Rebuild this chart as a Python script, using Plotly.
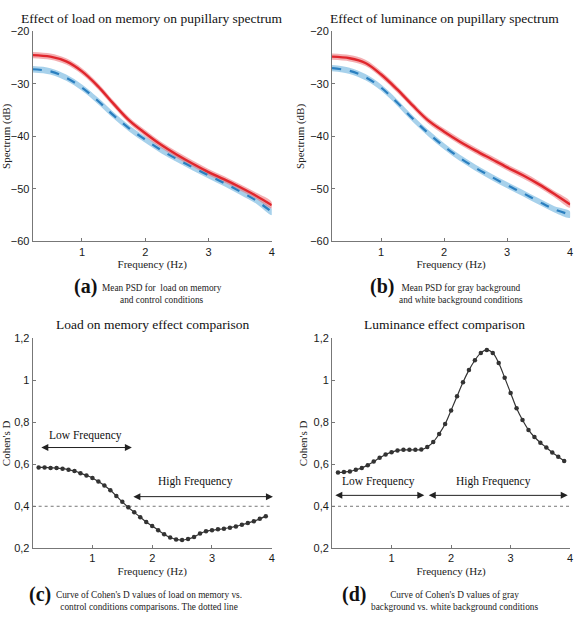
import plotly.graph_objects as go

# ---------------- data ----------------
freq_psd = [0.22, 0.5, 0.75, 1.0, 1.25, 1.5, 1.75, 2.0, 2.25, 2.5, 2.75, 3.0, 3.25, 3.5, 3.75, 4.0]
load_red = [-24.5, -24.8, -25.7, -27.6, -30.4, -33.8, -37.0, -39.4, -41.6, -43.5, -45.2, -46.8, -48.2, -49.7, -51.3, -53.1]
load_blue = [-27.2, -27.6, -28.8, -30.7, -33.2, -36.0, -38.5, -40.6, -42.6, -44.3, -45.9, -47.4, -48.9, -50.5, -52.2, -54.4]
lum_red = [-24.8, -25.1, -26.0, -28.2, -31.0, -34.1, -37.0, -39.1, -41.0, -42.7, -44.3, -45.9, -47.4, -49.1, -51.0, -53.0]
lum_blue = [-27.0, -27.5, -28.7, -30.7, -33.5, -36.6, -39.4, -41.9, -44.1, -46.0, -47.7, -49.3, -50.8, -52.4, -53.9, -54.9]
band_half = 0.6

freq_d = [round(0.1 * i, 1) for i in range(1, 40)]
d_load = [0.585, 0.585, 0.583, 0.582, 0.579, 0.574, 0.568, 0.558, 0.547, 0.535,
          0.518, 0.499, 0.476, 0.449, 0.421, 0.395, 0.371, 0.348, 0.325, 0.306,
          0.286, 0.267, 0.251, 0.242, 0.239, 0.244, 0.254, 0.270, 0.281, 0.286,
          0.290, 0.293, 0.298, 0.304, 0.312, 0.320, 0.329, 0.340, 0.353]
d_lum = [0.561, 0.563, 0.566, 0.574, 0.583, 0.596, 0.613, 0.631, 0.647, 0.658,
         0.666, 0.669, 0.669, 0.669, 0.670, 0.683, 0.706, 0.745, 0.792, 0.857,
         0.924, 0.991, 1.049, 1.096, 1.131, 1.145, 1.131, 1.083, 1.013, 0.940,
         0.867, 0.811, 0.764, 0.730, 0.703, 0.680, 0.656, 0.636, 0.616]
threshold = 0.4

psd_yticks = [-60, -50, -40, -30, -20]
d_ticks = [0.2, 0.4, 0.6, 0.8, 1.0, 1.2]
d_ticktext = ["0,2", "0,4", "0,6", "0,8", "1", "1,2"]
x_ticks = [1, 2, 3, 4]

titles = ["Effect of load on memory on pupillary spectrum",
          "Effect of luminance on pupillary spectrum",
          "Load on memory effect comparison",
          "Luminance effect comparison"]

# ---------------- figure ----------------
W, H = 585, 617
fig = go.Figure()

SERIF = "Liberation Serif"
SANS = "Liberation Sans"
RED = "#e0262c"
RED_BAND = "rgba(235,110,115,0.55)"
BLUE = "#2a7fc0"
BLUE_BAND = "rgba(120,185,225,0.65)"
SMOOTH = 1.0


def add_psd(xa, ya, red, blue):
    up_r = [v + band_half for v in red]
    lo_r = [v - band_half for v in red]
    up_b = [v + band_half for v in blue]
    lo_b = [v - band_half for v in blue]
    fig.add_trace(go.Scatter(x=freq_psd + freq_psd[::-1], y=up_b + lo_b[::-1], fill="toself",
                             fillcolor=BLUE_BAND, line=dict(width=0, shape="spline", smoothing=SMOOTH), mode="lines",
                             xaxis=xa, yaxis=ya, showlegend=False, hoverinfo="skip"))
    fig.add_trace(go.Scatter(x=freq_psd + freq_psd[::-1], y=up_r + lo_r[::-1], fill="toself",
                             fillcolor=RED_BAND, line=dict(width=0, shape="spline", smoothing=SMOOTH), mode="lines",
                             xaxis=xa, yaxis=ya, showlegend=False, hoverinfo="skip"))
    fig.add_trace(go.Scatter(x=freq_psd, y=blue, mode="lines",
                             line=dict(color=BLUE, width=2.2, dash="dash", shape="spline", smoothing=SMOOTH),
                             xaxis=xa, yaxis=ya, showlegend=False))
    fig.add_trace(go.Scatter(x=freq_psd, y=red, mode="lines",
                             line=dict(color=RED, width=2.4, shape="spline", smoothing=SMOOTH),
                             xaxis=xa, yaxis=ya, showlegend=False))


def add_d(xa, ya, vals):
    fig.add_trace(go.Scatter(x=[0, 4], y=[threshold, threshold], mode="lines",
                             line=dict(color="#777", width=1, dash="dot"),
                             xaxis=xa, yaxis=ya, showlegend=False))
    fig.add_trace(go.Scatter(x=freq_d, y=vals, mode="lines+markers",
                             line=dict(color="#333", width=1.2, shape="spline"),
                             marker=dict(color="#333", size=4.5),
                             xaxis=xa, yaxis=ya, showlegend=False))


add_psd("x", "y", load_red, load_blue)
add_psd("x2", "y2", lum_red, lum_blue)
add_d("x3", "y3", d_load)
add_d("x4", "y4", d_lum)


def px_x(a, b):
    return [a / W, b / W]


def px_y(top, bottom):
    return [1 - bottom / H, 1 - top / H]


L_DOM = px_x(29, 271)
R_DOM = px_x(332, 573)
T_DOM = px_y(26, 240)
B_DOM = px_y(339, 553)

tickfont = dict(family=SANS, size=11, color="#1a1a1a")
axis_common = dict(showgrid=False, zeroline=False, showline=True, linecolor="#777",
                   linewidth=1, ticks="inside", ticklen=3, tickcolor="#777",
                   tickfont=tickfont, mirror=False)
xtitle = dict(text="Frequency (Hz)", font=dict(family=SERIF, size=11, color="#222"), standoff=3)


def ytitle(t):
    return dict(text=t, font=dict(family=SERIF, size=11, color="#222"), standoff=3)


fig.update_layout(
    width=W, height=H, margin=dict(l=0, r=0, t=0, b=0),
    paper_bgcolor="white", plot_bgcolor="white",
    xaxis=dict(domain=L_DOM, anchor="y", range=[0.22, 4], tickvals=x_ticks, title=xtitle, **axis_common),
    yaxis=dict(domain=T_DOM, anchor="x", range=[-60, -20], tickvals=psd_yticks,
               title=ytitle("Spectrum (dB)"), **axis_common),
    xaxis2=dict(domain=R_DOM, anchor="y2", range=[0.22, 4], tickvals=x_ticks, title=xtitle, **axis_common),
    yaxis2=dict(domain=T_DOM, anchor="x2", range=[-60, -20], tickvals=psd_yticks,
                title=ytitle("Spectrum (dB)"), **axis_common),
    xaxis3=dict(domain=L_DOM, anchor="y3", range=[0, 4], tickvals=x_ticks, title=xtitle, **axis_common),
    yaxis3=dict(domain=B_DOM, anchor="x3", range=[0.2, 1.2], tickvals=d_ticks, ticktext=d_ticktext,
                title=ytitle("Cohen's D"), **axis_common),
    xaxis4=dict(domain=R_DOM, anchor="y4", range=[0, 4], tickvals=x_ticks, title=xtitle, **axis_common),
    yaxis4=dict(domain=B_DOM, anchor="x4", range=[0.2, 1.2], tickvals=d_ticks, ticktext=d_ticktext,
                title=ytitle("Cohen's D"), **axis_common),
)

ann = []
# titles
for txt, cx, cy in [(titles[0], 150, 13), (titles[1], 446, 13), (titles[2], 150, 325), (titles[3], 446, 325)]:
    ann.append(dict(text=txt, x=cx / W, y=1 - cy / H, xref="paper", yref="paper", showarrow=False,
                    xanchor="center", yanchor="middle", font=dict(family=SERIF, size=13.5, color="#111")))

# captions
caps = [("(a)", 96, 286, "Mean PSD for  load on memory<br>and control conditions"),
        ("(b)", 397, 286, "Mean PSD for gray background<br>and white background conditions"),
        ("(c)", 50, 600, "Curve of Cohen's D values of load on memory vs.<br>control conditions comparisons. The dotted line"),
        ("(d)", 368, 600, "Curve of Cohen's D values of gray<br>background vs. white background conditions")]
for lab, lx, ly, txt in caps:
    ann.append(dict(text="<b>" + lab + "</b>", x=lx / W, y=1 - ly / H, xref="paper", yref="paper",
                    showarrow=False, xanchor="right", yanchor="middle",
                    font=dict(family=SERIF, size=20, color="#111")))
    ann.append(dict(text=txt, x=(lx + 1) / W, y=1 - (ly - 6) / H, xref="paper", yref="paper",
                    showarrow=False, xanchor="left", yanchor="top", align="center",
                    font=dict(family=SERIF, size=9.3, color="#222")))


def band(xa, ya, x0, x1, yv, label, lx, ly):
    ann.append(dict(x=x1, y=yv, ax=x0, ay=yv, xref=xa, yref=ya, axref=xa, ayref=ya, text="",
                    showarrow=True, arrowhead=2, arrowside="end+start", arrowsize=1.4,
                    arrowwidth=1, arrowcolor="#222"))
    ann.append(dict(x=lx, y=ly, xref=xa, yref=ya, text=label, showarrow=False,
                    font=dict(family=SERIF, size=11.5, color="#111")))


band("x3", "y3", 0.12, 1.66, 0.68, "Low Frequency", 0.88, 0.737)
band("x3", "y3", 1.66, 4.02, 0.446, "High Frequency", 2.72, 0.516)
band("x4", "y4", 0.03, 1.55, 0.452, "Low Frequency", 0.78, 0.516)
band("x4", "y4", 1.6, 3.96, 0.452, "High Frequency", 2.71, 0.516)

fig.update_layout(annotations=ann)
fig.write_html("out.html")
